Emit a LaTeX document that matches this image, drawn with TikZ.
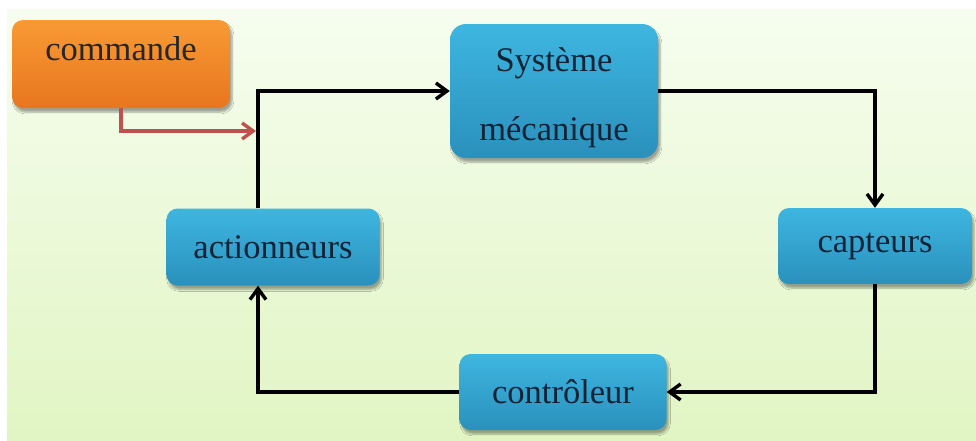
\documentclass[tikz,border=0pt]{standalone}
\usepackage{fontspec}
\setmainfont{Liberation Serif}
\usetikzlibrary{arrows.meta,shadows.blur,calc}
\definecolor{bgtop}{HTML}{F6FDEF}
\definecolor{bgbot}{HTML}{E1F5C3}
\definecolor{bluetop}{HTML}{3DB6E0}
\definecolor{bluebot}{HTML}{2A90BC}
\definecolor{orangetop}{HTML}{F89A34}
\definecolor{orangebot}{HTML}{E8761F}
\definecolor{txtblue}{HTML}{0F2236}
\definecolor{redarrow}{HTML}{C0504D}
\newcommand{\lowered}[1]{\raisebox{-7pt}[\height][\depth]{#1}}
\tikzset{
  box/.style={rectangle, rounded corners=11pt, top color=bluetop, bottom color=bluebot,
    text=txtblue, font=\fontsize{34.5}{40}\selectfont, inner sep=0pt,
    blur shadow={shadow blur steps=6, shadow xshift=2pt, shadow yshift=-4pt, shadow opacity=35}},
  obox/.style={box, top color=orangetop, bottom color=orangebot, text=black!85},
  link/.style={line width=3.8pt, -{Straight Barb[length=11pt,width=16pt,line width=3.4pt]}},
  rlink/.style={line width=3.8pt, redarrow, -{Straight Barb[length=11pt,width=16pt,line width=3.4pt]}}
}
\begin{document}
\begin{tikzpicture}[x=1pt,y=-1pt]
\useasboundingbox (0,0) rectangle (976,440);
\fill[white] (0,0) rectangle (976,440);
\shade[top color=bgtop, bottom color=bgbot] (7,9) rectangle (976,440);

\node[obox, minimum width=218pt, minimum height=88pt, text height=22pt, text depth=30pt] (commande) at (121,64) {commande};
\node[box, rounded corners=16pt, minimum width=208pt, minimum height=134pt, align=center] (systeme) at (554,91) {\lowered{Système}\\[29pt]\lowered{mécanique}};
\node[box, minimum width=194pt, minimum height=76pt] (capteurs) at (875,246) {capteurs};
\node[box, minimum width=213pt, minimum height=77pt] (actionneurs) at (273,247) {actionneurs};
\node[box, minimum width=207pt, minimum height=76pt] (controleur) at (563,392) {contrôleur};

\coordinate (cmdend) at (256,131);

\draw[link] ([xshift=-15pt]actionneurs.north) |- (systeme.west);
\draw[link] (systeme.east) -| (capteurs.north);
\draw[link] (capteurs.south) |- (controleur.east);
\draw[link] (controleur.west) -| ([xshift=-15pt]actionneurs.south);
\draw[rlink] (commande.south) |- (cmdend);
\end{tikzpicture}
\end{document}
